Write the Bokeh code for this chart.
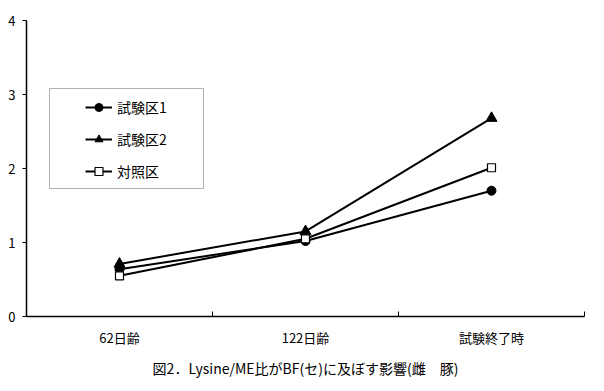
from bokeh.plotting import figure
from bokeh.models import FixedTicker, Range1d, Legend, LegendItem, Title, BoxAnnotation
from bokeh.embed import file_html
from bokeh.resources import INLINE

categories = ["62日齢", "122日齢", "試験終了時"]
series_names = ["試験区1", "試験区2", "対照区"]
s1 = [0.64, 1.02, 1.70]
s2 = [0.71, 1.15, 2.68]
s3 = [0.55, 1.05, 2.01]
y_ticks = [0, 1, 2, 3, 4]
title_text = "図2．Lysine/ME比がBF(セ)に及ぼす影響(雌　豚)"

FONT = "Noto Sans CJK JP"
xs = [i + 0.5 for i in range(len(categories))]

p = figure(width=596, height=383, output_backend="svg", toolbar_location=None,
           x_range=Range1d(0, len(categories)), y_range=Range1d(0, 4),
           min_border_left=26, min_border_right=12, min_border_top=20, min_border_bottom=67)
p.outline_line_color = None
p.xgrid.visible = False
p.ygrid.visible = False
p.background_fill_color = "white"
p.border_fill_color = "white"

# x axis: labels at category centres, ticks at boundaries
p.xaxis.ticker = FixedTicker(ticks=xs, minor_ticks=list(range(len(categories) + 1)))
p.xaxis.major_label_overrides = {x: c for x, c in zip(xs, categories)}
p.xaxis.major_tick_line_color = None
p.xaxis.major_tick_in = 0
p.xaxis.major_tick_out = 0
p.xaxis.minor_tick_in = 5
p.xaxis.minor_tick_out = 0
p.xaxis.minor_tick_line_color = "black"
p.xaxis.axis_line_color = "black"
p.xaxis.axis_line_width = 1.5
p.xaxis.major_label_standoff = 11
p.xaxis.major_label_text_font = FONT
p.xaxis.major_label_text_font_size = "13px"
p.xaxis.major_label_text_color = "black"

p.yaxis.ticker = FixedTicker(ticks=y_ticks)
p.yaxis.minor_tick_line_color = None
p.yaxis.major_tick_in = 0
p.yaxis.major_tick_out = 4
p.yaxis.major_tick_line_color = "black"
p.yaxis.axis_line_color = "black"
p.yaxis.axis_line_width = 1.5
p.yaxis.major_label_standoff = 7
p.yaxis.major_label_text_font = FONT
p.yaxis.major_label_text_font_size = "13px"
p.yaxis.major_label_text_color = "black"

r1l = p.line(xs, s1, line_color="black", line_width=2)
r1m = p.scatter(xs, s1, marker="circle", size=9, fill_color="black", line_color="black")
r2l = p.line(xs, s2, line_color="black", line_width=2)
r2m = p.scatter(xs, s2, marker="triangle", size=11, fill_color="black", line_color="black")
r3l = p.line(xs, s3, line_color="black", line_width=2)
r3m = p.scatter(xs, s3, marker="square", size=8, fill_color="white", line_color="black", line_width=1.2)

legend = Legend(items=[
    LegendItem(label=series_names[0], renderers=[r1l, r1m]),
    LegendItem(label=series_names[1], renderers=[r2l, r2m]),
    LegendItem(label=series_names[2], renderers=[r3l, r3m]),
], location=(59, 135), border_line_color=None, background_fill_alpha=0,
   padding=0, spacing=12, glyph_width=27, glyph_height=20, label_standoff=5,
   label_text_font=FONT, label_text_font_size="14px", label_text_color="black",
   margin=0)
p.add_layout(legend, "center")

box = BoxAnnotation(left=23, right=177, bottom=128, top=228,
                    left_units="screen", right_units="screen",
                    bottom_units="screen", top_units="screen",
                    fill_alpha=0, line_color="black", line_width=1)
p.add_layout(box)

p.add_layout(Title(text=title_text, align="center", text_font=FONT,
                   text_font_size="14px", text_font_style="normal",
                   text_color="black", standoff=12, offset=0), "below")

open("out.html", "w").write(file_html(p, INLINE))
